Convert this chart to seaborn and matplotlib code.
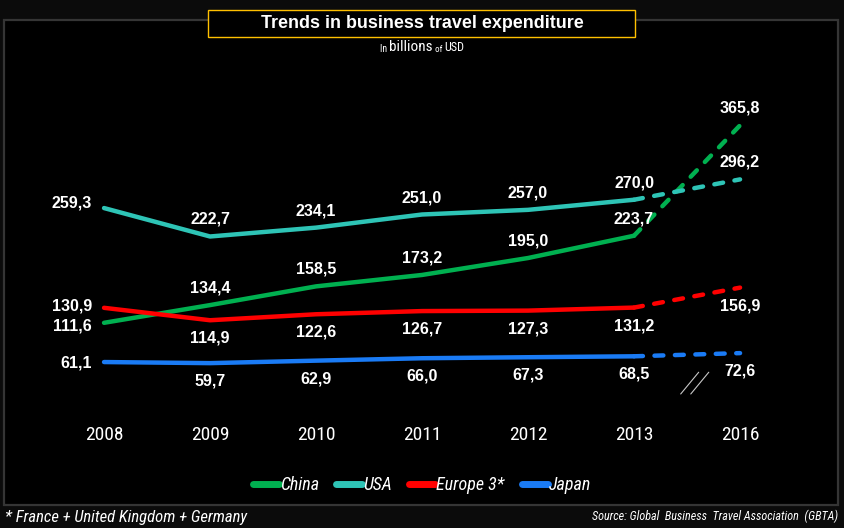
import warnings

import numpy as np
import pandas as pd
import seaborn as sns
import matplotlib.pyplot as plt
from matplotlib import font_manager
from matplotlib.patches import Rectangle

warnings.filterwarnings("ignore")

# ------------------------------------------------------------
# Trends in business travel expenditure (billions of USD)
# ------------------------------------------------------------

YEARS = ["2008", "2009", "2010", "2011", "2012", "2013", "2016"]
SERIES = ["China", "USA", "Europe 3*", "Japan"]

CHINA = [111.6, 134.4, 158.5, 173.2, 195.0, 223.7, 365.8]
USA = [259.3, 222.7, 234.1, 251.0, 257.0, 270.0, 296.2]
EUROPE = [130.9, 114.9, 122.6, 126.7, 127.3, 131.2, 156.9]
JAPAN = [61.1, 59.7, 62.9, 66.0, 67.3, 68.5, 72.6]

LAST_ACTUAL = "2013"

PALETTE = {
    "China": "#00B050",
    "USA": "#2EC4B6",
    "Europe 3*": "#FF0000",
    "Japan": "#1A7BF5",
}

# label side for the points after the first one
LABEL_SIDE = {"China": "above", "USA": "above", "Europe 3*": "below", "Japan": "below"}
# vertical nudge (pixels) of the first-year label, which sits left of the line
FIRST_NUDGE = {"China": -3, "USA": 5, "Europe 3*": 2, "Japan": -1}

SANS = ["Liberation Sans", "DejaVu Sans"]


def pick_narrow():
    installed = {f.name for f in font_manager.fontManager.ttflist}
    for name in ["Liberation Sans Narrow", "Arial Narrow", "Roboto Condensed",
                 "DejaVu Sans Condensed", "Open Sans Condensed", "Noto Sans Condensed"]:
        if name in installed:
            return [name] + SANS, True
    return SANS, False


def fmt(v):
    return f"{v:.1f}".replace(".", ",")


def main():
    narrow, have_narrow = pick_narrow()
    shrink = 1.0 if have_narrow else 0.84

    values = {"China": CHINA, "USA": USA, "Europe 3*": EUROPE, "Japan": JAPAN}
    rows = []
    for s in SERIES:
        for i, (yr, v) in enumerate(zip(YEARS, values[s])):
            rows.append({"series": s, "year": yr, "pos": i, "value": v})
    df = pd.DataFrame(rows)

    cut = YEARS.index(LAST_ACTUAL)
    solid = df[df["pos"] <= cut]
    fcst = df[df["pos"] >= cut]

    sns.set_theme(style="white")
    plt.rcParams["font.family"] = SANS
    plt.rcParams["axes.unicode_minus"] = False

    fig = plt.figure(figsize=(8.44, 5.28), dpi=100)
    fig.patch.set_facecolor("#0b0b0b")

    panel = Rectangle((0.005, 0.043), 0.988, 0.919, transform=fig.transFigure,
                      facecolor="black", edgecolor="#353535", linewidth=1.6, zorder=-5)
    fig.patches.append(panel)

    ax = fig.add_axes([0.0479, 0.2244, 0.9043, 0.5886])
    ax.set_facecolor("none")
    ax.set_zorder(1)

    sns.lineplot(data=solid, x="pos", y="value", hue="series", hue_order=SERIES,
                 palette=PALETTE, linewidth=3.2, sort=False, ax=ax)
    n_solid = len(ax.lines)
    for ln in ax.lines:
        ln.set_solid_capstyle("round")
        ln.set_solid_joinstyle("round")

    sns.lineplot(data=fcst, x="pos", y="value", hue="series", hue_order=SERIES,
                 palette=PALETTE, linewidth=3.2, sort=False, legend=False, ax=ax)
    for ln in ax.lines[n_solid:]:
        ln.set_dashes((2.0, 2.6))
        ln.set_dash_capstyle("round")

    # data labels
    for s in SERIES:
        sub = df[df["series"] == s]
        for _, r in sub.iterrows():
            if r["pos"] == 0:
                off, ha = (-12, FIRST_NUDGE[s]), "right"
            else:
                off = (0, 17) if LABEL_SIDE[s] == "above" else (0, -18)
                ha = "center"
            ax.annotate(fmt(r["value"]), (r["pos"], r["value"]), xytext=off,
                        textcoords="offset pixels", ha=ha, va="center",
                        color="white", fontsize=11.5, fontweight="bold",
                        family=SANS, zorder=6)

    # axis break marks between the last actual year and the forecast
    mid = (cut + cut + 1) / 2
    for dx in (-0.05, 0.045):
        ax.plot([mid + dx - 0.01, mid + dx + 0.16], [20, 48],
                color="#c8c8c8", linewidth=0.8, zorder=4)

    ax.set_xlim(-0.6, 6.6)
    ax.set_ylim(0, 400)
    ax.set_xticks(range(len(YEARS)))
    ax.set_xticklabels(YEARS, family=narrow, fontsize=14 * shrink, color="white")
    ax.set_yticks([])
    ax.tick_params(axis="x", length=0, pad=12)
    ax.set_xlabel("")
    ax.set_ylabel("")
    for sp in ax.spines.values():
        sp.set_visible(False)

    leg = ax.legend(loc="center", bbox_to_anchor=(0.5, 0.081),
                    bbox_transform=fig.transFigure, ncol=4, frameon=False,
                    prop={"family": narrow, "style": "italic", "size": 13 * shrink},
                    labelcolor="white", handlelength=1.45, handletextpad=0.05,
                    columnspacing=0.95)
    for h in leg.legend_handles:
        h.set_linewidth(5)
        h.set_solid_capstyle("round")

    # title box
    tbox = Rectangle((0.2464, 0.9299), 0.506, 0.0511, transform=fig.transFigure,
                     facecolor="black", edgecolor="#FFC000", linewidth=1.0, zorder=2)
    fig.patches.append(tbox)
    fig.text(0.5, 0.956, "Trends in business travel expenditure", ha="center",
             va="center", color="white", fontsize=12.9, fontweight="bold",
             family=SANS, zorder=3)

    # subtitle with mixed sizes, chained left to right
    prev = fig.text(0.450, 0.898, "In ", color="white", fontsize=7 * shrink,
                    family=narrow, va="bottom", ha="left")
    for piece, size in [("billions", 11), (" of ", 6.5), ("USD", 8.8)]:
        prev = ax.annotate(piece, xy=(1, 0), xycoords=prev, ha="left", va="bottom",
                           color="white", fontsize=size * shrink, family=narrow,
                           annotation_clip=False)

    fig.text(0.006, 0.019, "* France + United Kingdom + Germany", ha="left",
             va="center", color="white", fontsize=12 * shrink, style="italic",
             family=narrow)
    fig.text(0.993, 0.023, "Source: Global  Business  Travel Association  (GBTA)",
             ha="right", va="center", color="white", fontsize=8.7 * shrink,
             style="italic", family=narrow)

    fig.savefig("out.png", dpi=100, facecolor=fig.get_facecolor())
    plt.close(fig)


if __name__ == "__main__":
    main()
